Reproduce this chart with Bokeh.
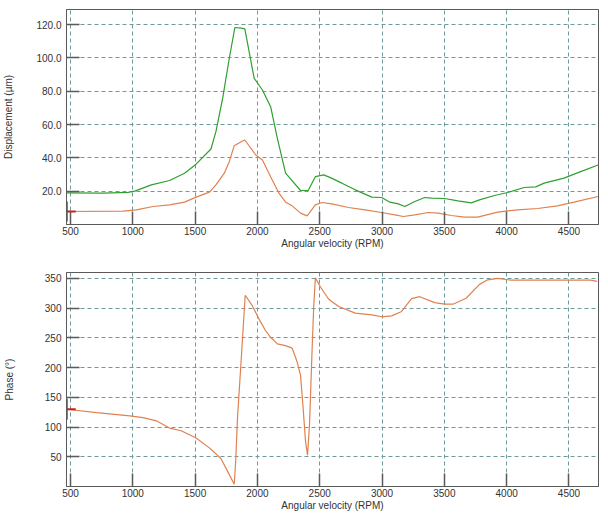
from bokeh.plotting import figure
from bokeh.layouts import column
from bokeh.models import FixedTicker, NumeralTickFormatter, Range1d, Label
from bokeh.embed import file_html
from bokeh.resources import INLINE

# ---------------- data ----------------
rpm_green = [470, 763, 963, 1016, 1149, 1295, 1415, 1508, 1627, 1667, 1721, 1774, 1819, 1872,
             1899, 1974, 2040, 2106, 2160, 2226, 2346, 2407, 2465, 2532, 2585, 2678, 2785, 2918,
             2997, 3064, 3131, 3183, 3263, 3343, 3396, 3502, 3609, 3716, 3782, 3902, 4008, 4141,
             4234, 4301, 4460, 4593, 4734]
disp_green = [19.0, 18.8, 19.3, 20.0, 23.8, 26.4, 30.8, 36.2, 45.3, 55.7, 75.7, 99.6, 118.2, 117.8,
              117.4, 87.7, 80.7, 70.7, 51.7, 30.8, 20.4, 20.4, 28.7, 29.8, 28.1, 24.8, 20.8, 16.4,
              16.2, 13.4, 12.4, 10.8, 13.8, 16.2, 15.8, 15.6, 14.2, 13.0, 14.8, 17.4, 19.2, 22.2,
              22.6, 24.8, 27.8, 31.7, 35.7]

rpm_orange = [470, 923, 1029, 1162, 1295, 1415, 1508, 1615, 1667, 1734, 1774, 1814, 1880, 1899,
              1987, 2040, 2106, 2173, 2226, 2279, 2346, 2399, 2465, 2519, 2598, 2731, 2864, 2997,
              3104, 3171, 3263, 3370, 3450, 3556, 3662, 3768, 3928, 4088, 4248, 4407, 4540, 4734]
disp_orange = [7.8, 8.0, 8.8, 10.8, 11.8, 13.4, 16.4, 19.4, 23.8, 30.8, 37.7, 47.3, 50.1, 50.7,
               41.7, 38.7, 28.7, 18.8, 13.4, 11.2, 6.8, 5.2, 11.8, 13.2, 12.4, 10.2, 8.8, 7.2,
               5.8, 4.8, 5.8, 7.2, 6.8, 5.4, 4.4, 4.4, 7.4, 8.8, 9.6, 11.2, 13.4, 16.8]

rpm_phase = [470, 710, 976, 1082, 1189, 1295, 1388, 1508, 1615, 1707, 1766, 1814, 1827, 1840,
             1867, 1902, 1960, 2013, 2066, 2106, 2160, 2226, 2279, 2319, 2346, 2365, 2386, 2402,
             2418, 2439, 2452, 2465, 2505, 2572, 2652, 2785, 2918, 2997, 3077, 3157, 3237, 3303,
             3423, 3502, 3569, 3675, 3782, 3848, 3928, 4035, 4673, 4726]
phase_orange = [130, 124.4, 118.8, 116, 110.5, 98.3, 93.8, 81.7, 65, 47.2, 23.3, 3.8, 48, 115,
                204, 321.7, 303.8, 281.6, 262, 251, 240, 237, 232.7, 209.4, 187, 137, 76, 52.7,
                103.8, 231.7, 303.8, 351, 336, 315, 302.7, 291.7, 288.8, 285.5, 287, 294.5, 316,
                319.3, 309.3, 306.7, 306.7, 316.7, 340, 347.7, 350, 347.2, 347.2, 345]

x_ticks = [500, 1000, 1500, 2000, 2500, 3000, 3500, 4000, 4500]
disp_ticks = [20, 40, 60, 80, 100, 120]
phase_ticks = [50, 100, 150, 200, 250, 300, 350]

x_start, x_end = 468, 4737
disp_start, disp_end = 0, 129
phase_start, phase_end = 0, 360

# ---------------- styling ----------------
FONT = "Liberation Sans"
TXT = "#333333"
FRAME = "#5a5a5a"
GRID = "#6e9a9a"
GREEN = "#2ea02e"
ORANGE = "#e0814f"
RED = "#cc1f1f"


def style(p, yticks, fmt, ylabel, ylabel_standoff):
    p.outline_line_color = FRAME
    p.outline_line_width = 1
    p.background_fill_color = "white"
    p.border_fill_color = "white"
    p.xaxis.ticker = FixedTicker(ticks=x_ticks)
    p.yaxis.ticker = FixedTicker(ticks=yticks)
    if fmt:
        p.yaxis.formatter = NumeralTickFormatter(format=fmt)
    for ax in (p.xaxis[0], p.yaxis[0]):
        ax.axis_line_color = FRAME
        ax.major_tick_in = 13
        ax.major_tick_out = 0
        ax.major_tick_line_color = FRAME
        ax.major_tick_line_width = 1.5
        ax.minor_tick_line_color = None
        ax.major_label_text_font = FONT
        ax.major_label_text_font_size = "10px"
        ax.major_label_text_color = TXT
        ax.axis_label_text_font = FONT
        ax.axis_label_text_font_size = "10px"
        ax.axis_label_text_font_style = "normal"
        ax.axis_label_text_color = TXT
    p.xaxis.axis_label = "Angular velocity (RPM)"
    p.xaxis.major_label_standoff = 2
    p.xaxis.axis_label_standoff = 0
    p.yaxis.axis_label = ylabel
    p.yaxis.major_label_standoff = 5
    p.yaxis.axis_label_standoff = ylabel_standoff
    for g in (p.xgrid[0], p.ygrid[0]):
        g.grid_line_color = GRID
        g.grid_line_dash = "4 3"
        g.grid_line_width = 1


def cursor(p, x0, y0, half, dx):
    p.segment(x0=[x0], y0=[y0 - half], x1=[x0], y1=[y0 + half], line_color=RED, line_width=2)
    p.segment(x0=[x0], y0=[y0], x1=[x0 + dx], y1=[y0], line_color=RED, line_width=2)


def markers(p, y_top):
    for t in ("1", "2"):
        p.add_layout(Label(x=x_start, y=y_top, text=t, x_offset=-3, y_offset=0,
                           text_baseline="bottom", text_color=RED, text_font=FONT,
                           text_font_size="8px", text_font_style="italic"))


# ---------------- top: displacement ----------------
p1 = figure(width=608, height=260, output_backend="svg", toolbar_location=None,
            x_range=Range1d(x_start, x_end), y_range=Range1d(disp_start, disp_end),
            min_border_left=63, min_border_right=10, min_border_top=9, min_border_bottom=36)
style(p1, disp_ticks, "0.0", "Displacement (µm)", 19)
p1.line(rpm_green, disp_green, line_color=GREEN, line_width=1.2)
p1.line(rpm_orange, disp_orange, line_color=ORANGE, line_width=1.2)
cursor(p1, rpm_orange[0], disp_orange[0], 6, 72)
markers(p1, disp_end)

# ---------------- bottom: phase ----------------
p2 = figure(width=608, height=253, output_backend="svg", toolbar_location=None,
            x_range=Range1d(x_start, x_end), y_range=Range1d(phase_start, phase_end),
            min_border_left=63, min_border_right=10, min_border_top=12, min_border_bottom=26)
style(p2, phase_ticks, None, "Phase (°)", 27)
p2.line(rpm_phase, phase_orange, line_color=ORANGE, line_width=1.2)
cursor(p2, rpm_phase[0], phase_orange[0], 17.5, 72)
markers(p2, phase_end)

layout = column(p1, p2, spacing=0)
open("out.html", "w").write(file_html(layout, INLINE))
